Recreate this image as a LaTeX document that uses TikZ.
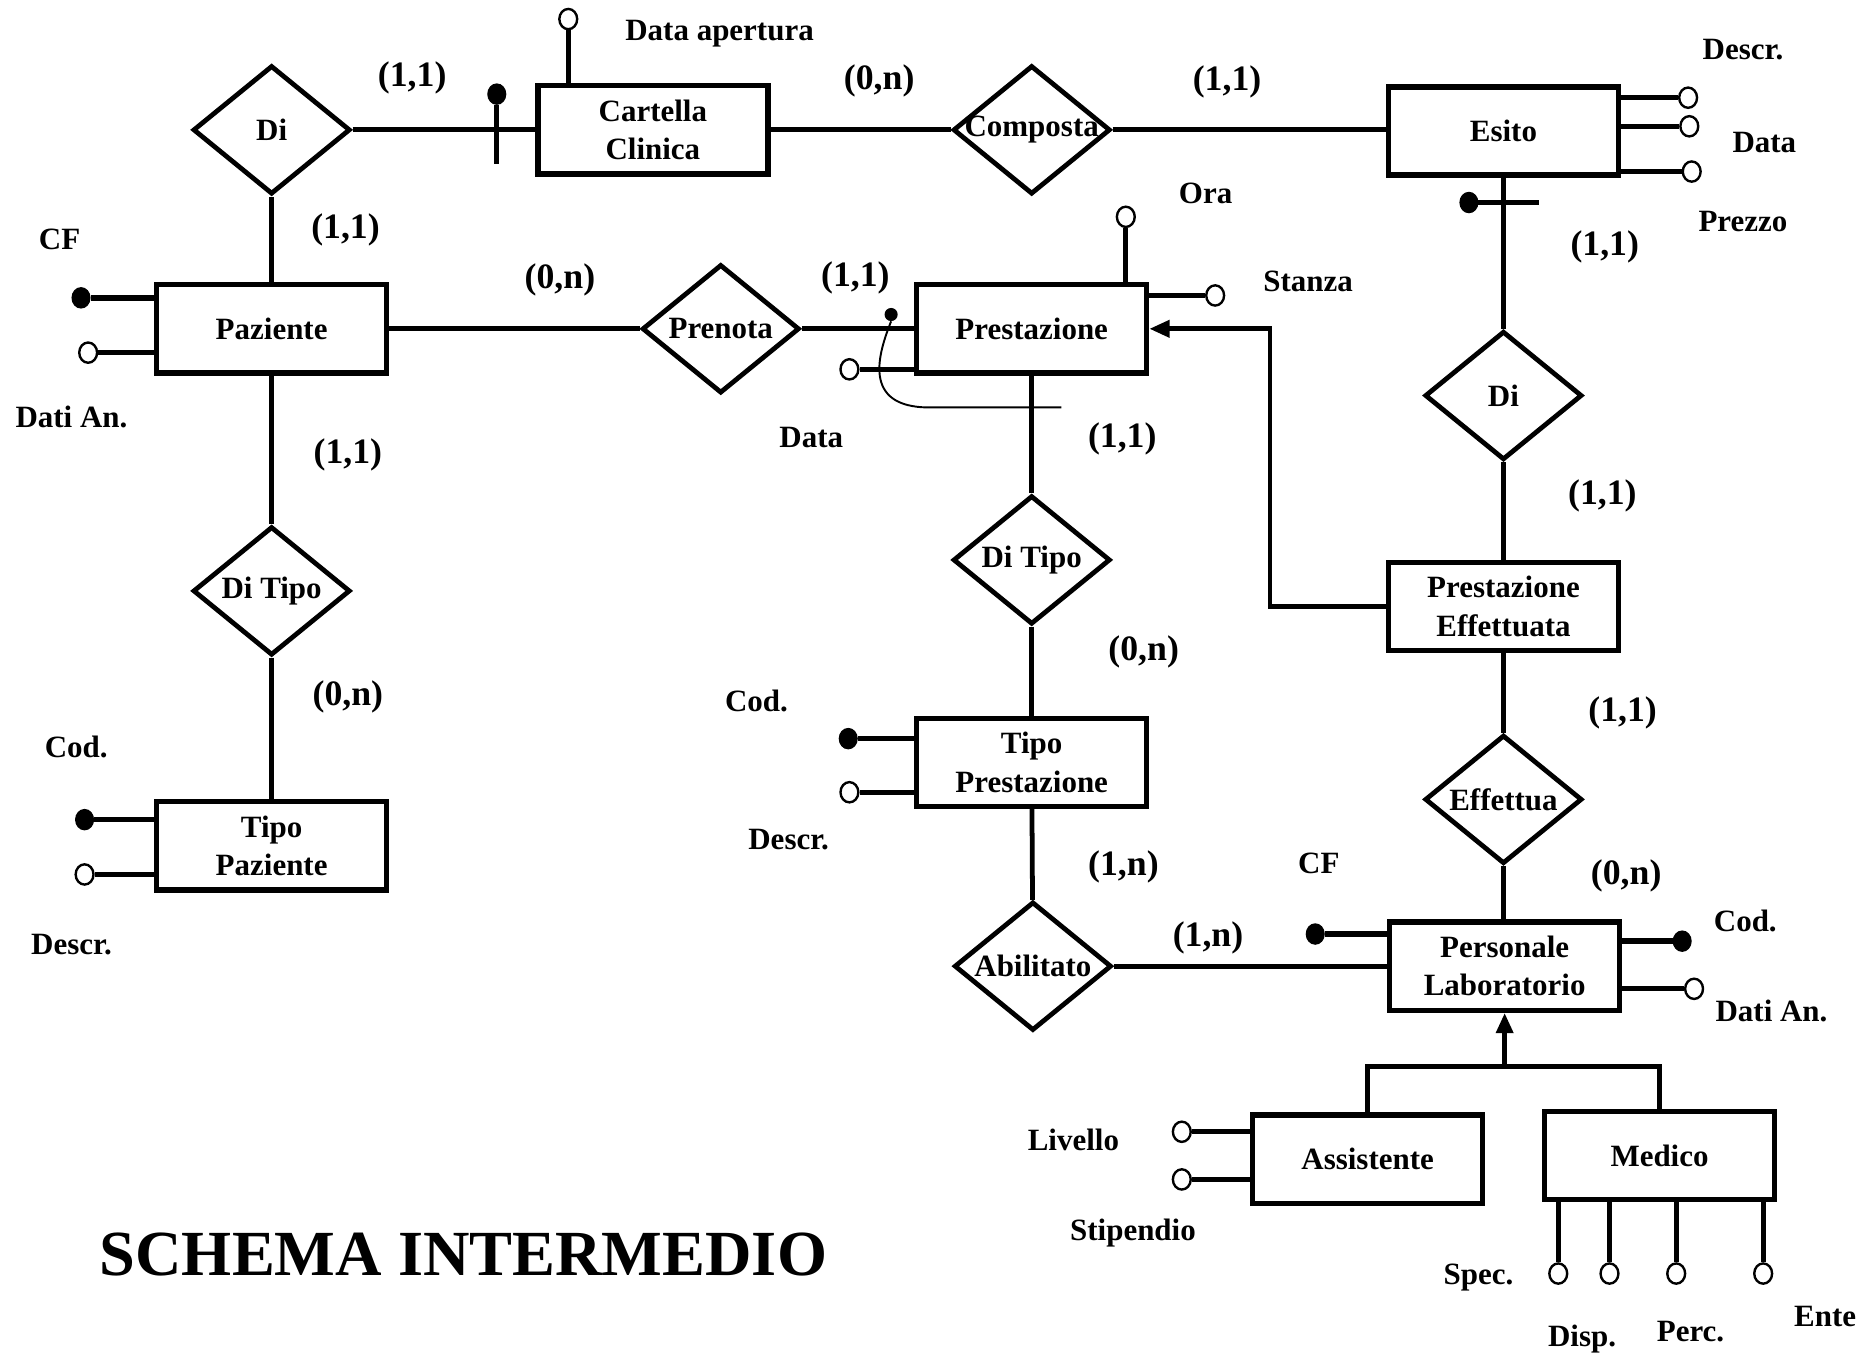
\documentclass[tikz,border=0pt]{standalone}
\usepackage{fontspec}
\setmainfont{Liberation Serif}
\usetikzlibrary{shapes.geometric,arrows.meta,calc}
\begin{document}
\begin{tikzpicture}[x=1pt,y=-1pt,
  ent/.style={draw,line width=4.5pt,minimum width=193pt,minimum height=74pt,inner sep=0pt,align=center,font=\bfseries\fontsize{26}{32}\selectfont},
  rel/.style={draw,diamond,line width=4pt,minimum width=132pt,minimum height=108pt,inner sep=0pt,font=\bfseries\fontsize{26}{32}\selectfont},
  conn/.style={line width=4pt},
  attr/.style={line width=4.5pt},
  thinl/.style={line width=1.6pt},
  kdot/.style={ellipse,fill=black,draw=black,line width=1pt,minimum width=15pt,minimum height=17pt,inner sep=0pt},
  sdot/.style={circle,fill=black,minimum size=11pt,inner sep=0pt},
  odot/.style={ellipse,fill=white,draw=black,line width=2pt,minimum width=15pt,minimum height=17pt,inner sep=0pt},
  lab/.style={font=\bfseries\fontsize{26}{32}\selectfont,inner sep=0pt},
  card/.style={font=\bfseries\fontsize{30}{34}\selectfont,inner sep=0pt},
  isa/.style={line width=4pt,-{Triangle[length=17pt,width=14pt]}}
]
\useasboundingbox (0,0) rectangle (1568,1138);
\fill[white] (0,0) rectangle (1568,1138);

% entities
\node[ent] (cc) at (548,109) {Cartella\\Clinica};
\node[ent] (es) at (1262,110) {Esito};
\node[ent] (pz) at (228,276) {Paziente};
\node[ent] (pr) at (866,276) {Prestazione};
\node[ent] (pe) at (1262,509) {Prestazione\\Effettuata};
\node[ent] (tpr) at (866,640) {Tipo\\Prestazione};
\node[ent] (tpz) at (228,710) {Tipo\\Paziente};
\node[ent] (pl) at (1263,811) {Personale\\Laboratorio};
\node[ent] (as) at (1148,973) {Assistente};
\node[ent] (me) at (1393,970) {Medico};

% relationships
\node[rel] (di1) at (228,109) {\makebox[0pt]{Di}};
\node[rel] (comp) at (866,109) {\makebox[0pt]{Composta}};
\node[rel] (pren) at (605,276) {\makebox[0pt]{Prenota}};
\node[rel] (di2) at (1262,332) {\makebox[0pt]{Di}};
\node[rel] (dt1) at (228,496) {\makebox[0pt]{Di Tipo}};
\node[rel] (dt2) at (866,470) {\makebox[0pt]{Di Tipo}};
\node[rel] (eff) at (1262,671) {\makebox[0pt]{Effettua}};
\node[rel] (abi) at (867,811) {\makebox[0pt]{Abilitato}};

% connectors
\draw[conn] (di1) -- (cc);
\draw[conn] (cc) -- (comp);
\draw[conn] (comp) -- (comp -| es.west);
\draw[conn] (es) -- (di2);
\draw[conn] (di2) -- (pe);
\draw[conn] (pe) -- (eff);
\draw[conn] (eff) -- (eff |- pl.north);
\draw[conn] (pz) -- (di1);
\draw[conn] (pz) -- (pren);
\draw[conn] (pren) -- (pr);
\draw[conn] (pz) -- (dt1);
\draw[conn] (dt1) -- (tpz);
\draw[conn] (pr) -- (dt2);
\draw[conn] (dt2) -- (tpr);
\draw[conn] (tpr) -- (abi);
\draw[conn] (abi) -- (abi -| pl.west);
\coordinate (bx) at (1066,0);
\draw[conn,-{Triangle[length=17pt,width=14pt]}] (pe.west) -| (bx |- pr.east) -- (pr.east);
\coordinate (isa) at (1263,895);
\draw[isa] (isa) -- (pl.south);
\draw[conn] (as.north) |- (isa) -| (me.north);

% identifiers
\node[kdot] (idcc) at (417,79) {};
\coordinate (idccb) at (417,138);
\draw[conn] (idcc) -- (idccb);
\node[kdot] (ides) at (1233,170) {};
\coordinate (idesb) at (1292,170);
\draw[conn] (ides) -- (idesb);
\node[sdot] (idpr) at (748,264) {};
\coordinate (idpre) at (891,342);
\draw[thinl] (idpr.south) .. controls (738,295) and (722,342) .. (780,342) -- (idpre);

% attributes
\node[odot] (cda) at (477,16) {};
\draw[conn] (cda) -- (cda |- cc.north);
\node[kdot] (pzcf) at (68,250) {};
\draw[attr] (pzcf) -- (pzcf -| pz.west);
\node[odot] (pzda) at (74,296) {};
\draw[attr] (pzda) -- (pzda -| pz.west);
\node[kdot] (tpzc) at (71,688) {};
\draw[attr] (tpzc) -- (tpzc -| tpz.west);
\node[odot] (tpzd) at (71,734) {};
\draw[attr] (tpzd) -- (tpzd -| tpz.west);
\node[kdot] (tprc) at (712,620) {};
\draw[attr] (tprc) -- (tprc -| tpr.west);
\node[odot] (tprd) at (713,665) {};
\draw[attr] (tprd) -- (tprd -| tpr.west);
\node[odot] (prda) at (713,310) {};
\draw[attr] (prda) -- (prda -| pr.west);
\node[odot] (pror) at (945,182) {};
\draw[conn] (pror) -- (pror |- pr.north);
\node[odot] (prst) at (1020,248) {};
\draw[attr] (prst) -- (prst -| pr.east);
\node[odot] (esde) at (1417,82) {};
\draw[attr] (esde) -- (esde -| es.east);
\node[odot] (esda) at (1418,106) {};
\draw[attr] (esda) -- (esda -| es.east);
\node[odot] (espr) at (1420,144) {};
\draw[attr] (espr) -- (espr -| es.east);
\node[kdot] (plcf) at (1104,784) {};
\draw[attr] (plcf) -- (plcf -| pl.west);
\node[kdot] (plco) at (1412,790) {};
\draw[attr] (plco) -- (plco -| pl.east);
\node[odot] (plda) at (1422,830) {};
\draw[attr] (plda) -- (plda -| pl.east);
\node[odot] (asli) at (992,950) {};
\draw[attr] (asli) -- (asli -| as.west);
\node[odot] (asst) at (992,990) {};
\draw[attr] (asst) -- (asst -| as.west);
\node[odot] (mesp) at (1308,1069) {};
\draw[conn] (mesp) -- (mesp |- me.south);
\node[odot] (medi) at (1351,1069) {};
\draw[conn] (medi) -- (medi |- me.south);
\node[odot] (mepe) at (1407,1069) {};
\draw[conn] (mepe) -- (mepe |- me.south);
\node[odot] (meen) at (1480,1069) {};
\draw[conn] (meen) -- (meen |- me.south);

% attribute labels
\node[lab] (l1) at (604,28) {Data apertura};
\node[lab] (l2) at (50,201) {CF};
\node[lab] (l3) at (60,350) {Dati An.};
\node[lab] (l4) at (64,627) {Cod.};
\node[lab] (l5) at (60,793) {Descr.};
\node[lab] (l6) at (635,588) {Cod.};
\node[lab] (l7) at (662,705) {Descr.};
\node[lab] (l8) at (681,367) {Data};
\node[lab] (l9) at (1012,162) {Ora};
\node[lab] (l10) at (1098,236) {Stanza};
\node[lab] (l11) at (1463,42) {Descr.};
\node[lab] (l12) at (1481,120) {Data};
\node[lab] (l13) at (1463,186) {Prezzo};
\node[lab] (l14) at (1107,725) {CF};
\node[lab] (l15) at (1465,773) {Cod.};
\node[lab] (l16) at (1487,849) {Dati An.};
\node[lab] (l17) at (901,957) {Livello};
\node[lab] (l18) at (951,1035) {Stipendio};
\node[lab] (l19) at (1241,1072) {Spec.};
\node[lab] (l20) at (1328,1124) {Disp.};
\node[lab] (l21) at (1419,1118) {Perc.};
\node[lab] (l22) at (1532,1105) {Ente};

% cardinalities
\node[card] (c1) at (346,65) {(1,1)};
\node[card] (c2) at (738,68) {(0,n)};
\node[card] (c3) at (1030,69) {(1,1)};
\node[card] (c4) at (290,193) {(1,1)};
\node[card] (c5) at (470,235) {(0,n)};
\node[card] (c6) at (718,233) {(1,1)};
\node[card] (c7) at (1347,207) {(1,1)};
\node[card] (c8) at (292,382) {(1,1)};
\node[card] (c9) at (942,368) {(1,1)};
\node[card] (c10) at (1345,416) {(1,1)};
\node[card] (c11) at (292,585) {(0,n)};
\node[card] (c12) at (960,547) {(0,n)};
\node[card] (c13) at (1362,598) {(1,1)};
\node[card] (c14) at (943,728) {(1,n)};
\node[card] (c15) at (1365,735) {(0,n)};
\node[card] (c16) at (1014,787) {(1,n)};

% title
\node[font=\bfseries\fontsize{54}{60}\selectfont,inner sep=0pt] (title) at (389,1053) {SCHEMA INTERMEDIO};
\end{tikzpicture}
\end{document}
